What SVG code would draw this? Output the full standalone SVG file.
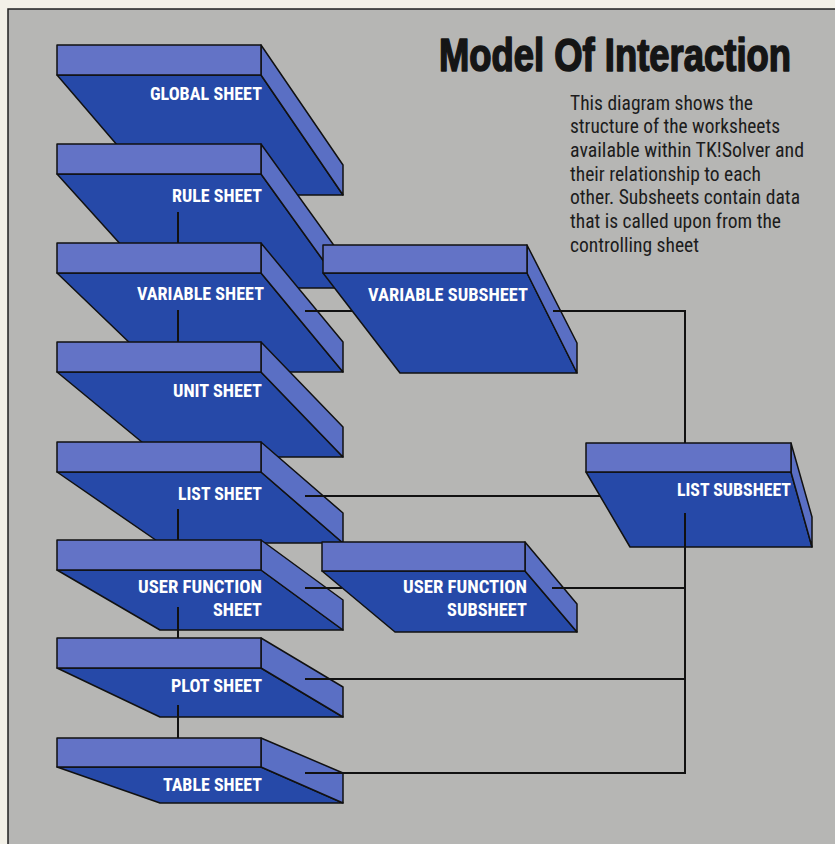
<svg xmlns="http://www.w3.org/2000/svg" width="835" height="844" viewBox="0 0 835 844">
<style>
.strip{fill:#6373c6;stroke:#111;stroke-width:1.5;stroke-linejoin:round}
.face{fill:#2649a8;stroke:#111;stroke-width:1.5;stroke-linejoin:round}
.side{fill:#5a6fc4;stroke:#111;stroke-width:1.5;stroke-linejoin:round}
.lbl{font-family:"Liberation Sans Narrow","Roboto Condensed","Liberation Sans",Arial,sans-serif;font-weight:bold;font-size:18px;fill:#fff;text-anchor:end}
.para{font-family:"Liberation Sans Narrow","Roboto Condensed","Liberation Sans",Arial,sans-serif;font-size:20px;fill:#1c1c1c}
.conn{fill:none;stroke:#111;stroke-width:2}
</style>
<rect x="0" y="0" width="835" height="844" fill="#f3f1e8"/>
<rect x="8" y="9" width="830" height="840" fill="#b6b6b4" stroke="#222" stroke-width="1.5"/>
<g id="title">
<text transform="translate(439,71) scale(1,1.18)" x="0" y="0" font-family="'Liberation Sans Narrow','Liberation Sans',Arial,sans-serif" font-weight="bold" font-size="39" fill="#151515" stroke="#151515" stroke-width="1.4" stroke-linejoin="round" textLength="352" lengthAdjust="spacingAndGlyphs">Model Of Interaction</text>
</g>
<g id="description" class="para">
<text x="570" y="110" textLength="183" lengthAdjust="spacingAndGlyphs">This diagram shows the</text>
<text x="570" y="133" textLength="210" lengthAdjust="spacingAndGlyphs">structure of the worksheets</text>
<text x="570" y="157" textLength="234" lengthAdjust="spacingAndGlyphs">available within TK!Solver and</text>
<text x="570" y="181" textLength="191" lengthAdjust="spacingAndGlyphs">their relationship to each</text>
<text x="570" y="204" textLength="230" lengthAdjust="spacingAndGlyphs">other. Subsheets contain data</text>
<text x="570" y="228" textLength="211" lengthAdjust="spacingAndGlyphs">that is called upon from the</text>
<text x="570" y="252" textLength="129" lengthAdjust="spacingAndGlyphs">controlling sheet</text>
</g>
<g id="global-sheet">
<polygon class="face" points="57,75 261,75 343,195 160,195"/>
<polygon class="side" points="261,45 343,165 343,195 261,75"/>
<rect class="strip" x="57" y="45" width="204" height="30"/>
<text class="lbl" x="262" y="100" textLength="112" lengthAdjust="spacingAndGlyphs">GLOBAL SHEET</text>
</g>
<g id="rule-sheet">
<polygon class="face" points="57,174 261,174 343,288 160,288"/>
<polygon class="side" points="261,144 343,258 343,288 261,174"/>
<rect class="strip" x="57" y="144" width="204" height="30"/>
<text class="lbl" x="262" y="202" textLength="90" lengthAdjust="spacingAndGlyphs">RULE SHEET</text>
</g>
<g id="variable-sheet">
<polygon class="face" points="57,273 261,273 343,372 160,372"/>
<polygon class="side" points="261,243 343,342 343,372 261,273"/>
<rect class="strip" x="57" y="243" width="204" height="30"/>
<text class="lbl" x="264" y="300" textLength="127" lengthAdjust="spacingAndGlyphs">VARIABLE SHEET</text>
</g>
<g id="unit-sheet">
<polygon class="face" points="57,372 261,372 343,457 160,457"/>
<polygon class="side" points="261,342 343,427 343,457 261,372"/>
<rect class="strip" x="57" y="342" width="204" height="30"/>
<text class="lbl" x="262" y="397" textLength="89" lengthAdjust="spacingAndGlyphs">UNIT SHEET</text>
</g>
<g id="list-sheet">
<polygon class="face" points="57,472 261,472 343,543 160,543"/>
<polygon class="side" points="261,442 343,513 343,543 261,472"/>
<rect class="strip" x="57" y="442" width="204" height="30"/>
<text class="lbl" x="262" y="500" textLength="84" lengthAdjust="spacingAndGlyphs">LIST SHEET</text>
</g>
<g id="user-function-sheet">
<polygon class="face" points="57,570 261,570 343,630 160,630"/>
<polygon class="side" points="261,540 343,600 343,630 261,570"/>
<rect class="strip" x="57" y="540" width="204" height="30"/>
<text class="lbl" x="262" y="593" textLength="124" lengthAdjust="spacingAndGlyphs">USER FUNCTION</text>
<text class="lbl" x="262" y="616" textLength="49" lengthAdjust="spacingAndGlyphs">SHEET</text>
</g>
<g id="plot-sheet">
<polygon class="face" points="57,668 261,668 343,717 160,717"/>
<polygon class="side" points="261,638 343,687 343,717 261,668"/>
<rect class="strip" x="57" y="638" width="204" height="30"/>
<text class="lbl" x="262" y="692" textLength="91" lengthAdjust="spacingAndGlyphs">PLOT SHEET</text>
</g>
<g id="table-sheet">
<polygon class="face" points="57,767 261,767 343,803 160,803"/>
<polygon class="side" points="261,738 343,773 343,803 261,767"/>
<rect class="strip" x="57" y="738" width="204" height="29"/>
<text class="lbl" x="262" y="791" textLength="99" lengthAdjust="spacingAndGlyphs">TABLE SHEET</text>
</g>
<g id="variable-subsheet">
<polygon class="face" points="323,273 527,273 577,373 400,373"/>
<polygon class="side" points="527,245 577,343 577,373 527,273"/>
<rect class="strip" x="323" y="245" width="204" height="28"/>
<text class="lbl" x="528" y="301" textLength="160" lengthAdjust="spacingAndGlyphs">VARIABLE SUBSHEET</text>
</g>
<g id="list-subsheet">
<polygon class="face" points="586,472 791,472 812,547 630,547"/>
<polygon class="side" points="791,443 812,517 812,547 791,472"/>
<rect class="strip" x="586" y="443" width="205" height="29"/>
<text class="lbl" x="791" y="496" textLength="114" lengthAdjust="spacingAndGlyphs">LIST SUBSHEET</text>
</g>
<g id="user-function-subsheet">
<polygon class="face" points="322,571 525,571 577,632 395,632"/>
<polygon class="side" points="525,542 577,604 577,632 525,571"/>
<rect class="strip" x="322" y="542" width="203" height="29"/>
<text class="lbl" x="527" y="593" textLength="124" lengthAdjust="spacingAndGlyphs">USER FUNCTION</text>
<text class="lbl" x="527" y="616" textLength="80" lengthAdjust="spacingAndGlyphs">SUBSHEET</text>
</g>
<g id="connectors" class="conn">
<line x1="178" y1="212" x2="178" y2="243"/>
<line x1="178" y1="310" x2="178" y2="342"/>
<line x1="178" y1="509" x2="178" y2="540"/>
<line x1="178" y1="607" x2="178" y2="638"/>
<line x1="178" y1="705" x2="178" y2="738"/>
<line x1="305" y1="311" x2="352" y2="311"/>
<polyline points="553,311 685,311 685,443"/>
<line x1="305" y1="496" x2="600" y2="496"/>
<line x1="305" y1="588" x2="342" y2="588"/>
<line x1="552" y1="588" x2="685" y2="588"/>
<line x1="305" y1="679" x2="685" y2="679"/>
<polyline points="685,513 685,773 305,773"/>
</g>
</svg>
